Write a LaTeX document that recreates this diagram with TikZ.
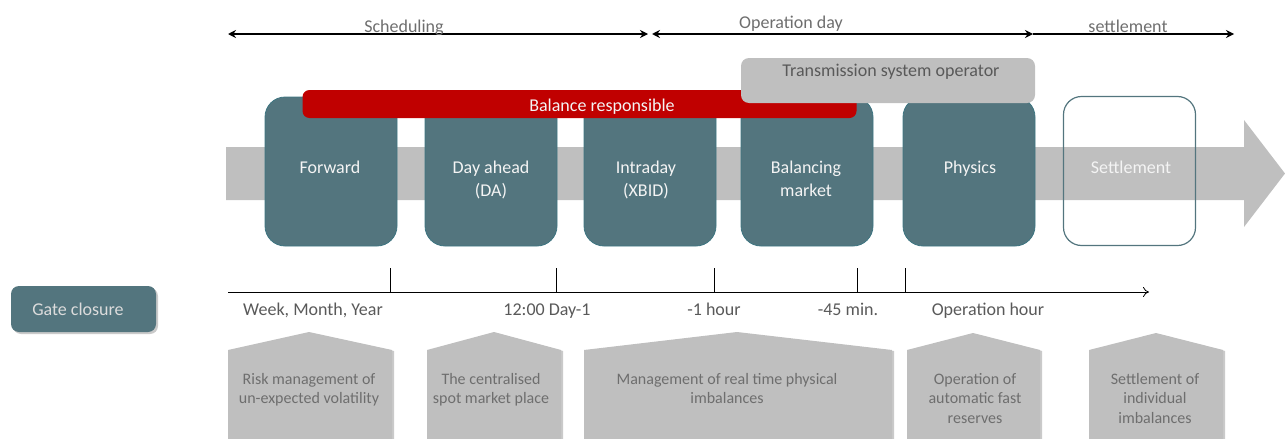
\documentclass[tikz,border=0pt]{standalone}
\usepackage{fontspec}
\setmainfont{Carlito}
\usetikzlibrary{arrows.meta,shadows}
\definecolor{tealbox}{HTML}{53757E}
\definecolor{tealline}{HTML}{3E7682}
\definecolor{redbar}{HTML}{C00000}
\definecolor{lgray}{HTML}{BFBFBF}
\definecolor{txtgray}{HTML}{6E6E6E}
\definecolor{dgray}{HTML}{595959}
\definecolor{boxtext}{HTML}{F4F4F4}
\begin{document}
\begin{tikzpicture}[x=1pt,y=-1pt,
  market/.style={rounded corners=20pt, fill=tealbox, draw=tealline, line width=0.8pt, minimum width=132pt, minimum height=149pt, inner sep=0pt},
  mtext/.style={text=boxtext, font=\fontsize{18}{23}\selectfont, align=center, anchor=north, inner sep=0pt},
  toplabel/.style={text=txtgray, font=\fontsize{18}{22}\selectfont, anchor=base, inner sep=0pt},
  tlabel/.style={text=dgray, font=\fontsize{18}{22}\selectfont, anchor=base, inner sep=0pt},
  ptext/.style={text=txtgray, font=\fontsize{16}{19.5}\selectfont, align=center, anchor=north, inner sep=0pt},
  pent/.style={fill=lgray, drop shadow={shadow xshift=2pt, shadow yshift=-1pt, opacity=0.35, fill=black!60}},
  span/.style={line width=1.4pt, black},
  tip/.style={Stealth[length=8pt,width=8pt]},
  tick/.style={line width=0.8pt, black}
]
\useasboundingbox (0,0) rectangle (1285,439);

% ---------- top spans ----------
\coordinate (s1) at (228,34);
\coordinate (s2) at (648,34);
\coordinate (o1) at (652,34);
\coordinate (o2) at (1033,34);
\coordinate (e2) at (1234,34);
\draw[span, {Stealth[length=8pt,width=8pt]}-{Stealth[length=8pt,width=8pt]}] (s1) -- (s2);
\draw[span, {Stealth[length=8pt,width=8pt]}-{Stealth[length=8pt,width=8pt]}] (o1) -- (o2);
\draw[span, -{Stealth[length=8pt,width=8pt]}] (o2) -- (e2);
\node[toplabel] (lsched) at (404,32) {Scheduling};
\node[toplabel] (lopday) at (791,28) {Operation day};
\node[toplabel] (lsettle) at (1128,32) {settlement};

% ---------- big gray arrow ----------
\fill[lgray] (226,147) -- (1244,147) -- (1244,120) -- (1285,173.5) -- (1244,227) -- (1244,200) -- (226,200) -- cycle;

% ---------- market boxes ----------
\node[market] (fwd) at (331,171.5) {};
\node[market] (da)  at (491,171.5) {};
\node[market] (id)  at (650,171.5) {};
\node[market] (bal) at (807,171.5) {};
\node[market] (phy) at (969,171.5) {};
\node[market, fill=none, draw=tealbox, line width=1.2pt, rounded corners=18pt] (set) at (1129.5,171) {};

\node[mtext] (tfwd) at (330,161) {Forward};
\node[mtext] (tda)  at (491,161) {Day ahead\\(DA)};
\node[mtext] (tid)  at (646,161) {Intraday\\(XBID)};
\node[mtext] (tbal) at (806,161) {Balancing\\market};
\node[mtext] (tphy) at (970,161) {Physics};
\node[mtext] (tset) at (1131,161) {Settlement};

% ---------- balance responsible bar ----------
\node[fill=redbar, rounded corners=7pt, minimum width=554pt, minimum height=28pt, inner sep=0pt] (brp) at (579.5,104) {};
\node[text=boxtext, font=\fontsize{18}{22}\selectfont, anchor=base, inner sep=0pt] (tbrp) at (602,111) {Balance responsible};

% ---------- TSO box ----------
\node[fill=lgray, rounded corners=8pt, minimum width=294pt, minimum height=45pt, inner sep=0pt] (tso) at (888,80.5) {};
\node[text=dgray, font=\fontsize{18}{22}\selectfont, anchor=base, inner sep=0pt] (ttso) at (891,76) {Transmission system operator};

% ---------- timeline ----------
\coordinate (t0) at (228,292);
\coordinate (t1) at (1149,292);
\draw[line width=0.8pt, -{To[length=6pt,width=10pt]}] (t0) -- (t1);
\foreach \x in {390,556,714,857,905}{
  \draw[tick] (\x,268) -- (\x,292);
}
\node[tlabel] (gw) at (313,315) {Week, Month, Year};
\node[tlabel] (gd) at (547,315) {12:00 Day-1};
\node[tlabel] (gh) at (714,315) {-1 hour};
\node[tlabel] (gm) at (848,315) {-45 min.};
\node[tlabel] (go) at (988,315) {Operation hour};

% ---------- gate closure ----------
\node[fill=tealbox, rounded corners=8pt, minimum width=145pt, minimum height=46pt, inner sep=0pt,
      drop shadow={shadow xshift=2pt, shadow yshift=-2pt, opacity=0.35, fill=black!60}] (gate) at (83.5,309) {};
\node[text=boxtext!90!black, font=\fontsize{18}{22}\selectfont, anchor=base, inner sep=0pt] (tgate) at (78,315) {Gate closure};

% ---------- pentagons ----------
\path[pent] (228,350) -- (309,332) -- (392,350) -- (392,445) -- (228,445) -- cycle;
\path[pent] (427,350) -- (494,332) -- (561,350) -- (561,445) -- (427,445) -- cycle;
\path[pent] (584,350) -- (737,332) -- (892,350) -- (892,445) -- (584,445) -- cycle;
\path[pent] (907,350) -- (973,333) -- (1040,350) -- (1040,445) -- (907,445) -- cycle;
\path[pent] (1089,350) -- (1156,333) -- (1223,350) -- (1223,445) -- (1089,445) -- cycle;

\node[ptext] (p1) at (309,373) {Risk management of\\un-expected volatility};
\node[ptext] (p2) at (491,373) {The centralised\\spot market place};
\node[ptext] (p3) at (727,373) {Management of real time physical\\imbalances};
\node[ptext] (p4) at (975,373) {Operation of\\automatic fast\\reserves};
\node[ptext] (p5) at (1155,373) {Settlement of\\individual\\imbalances};
\end{tikzpicture}
\end{document}
